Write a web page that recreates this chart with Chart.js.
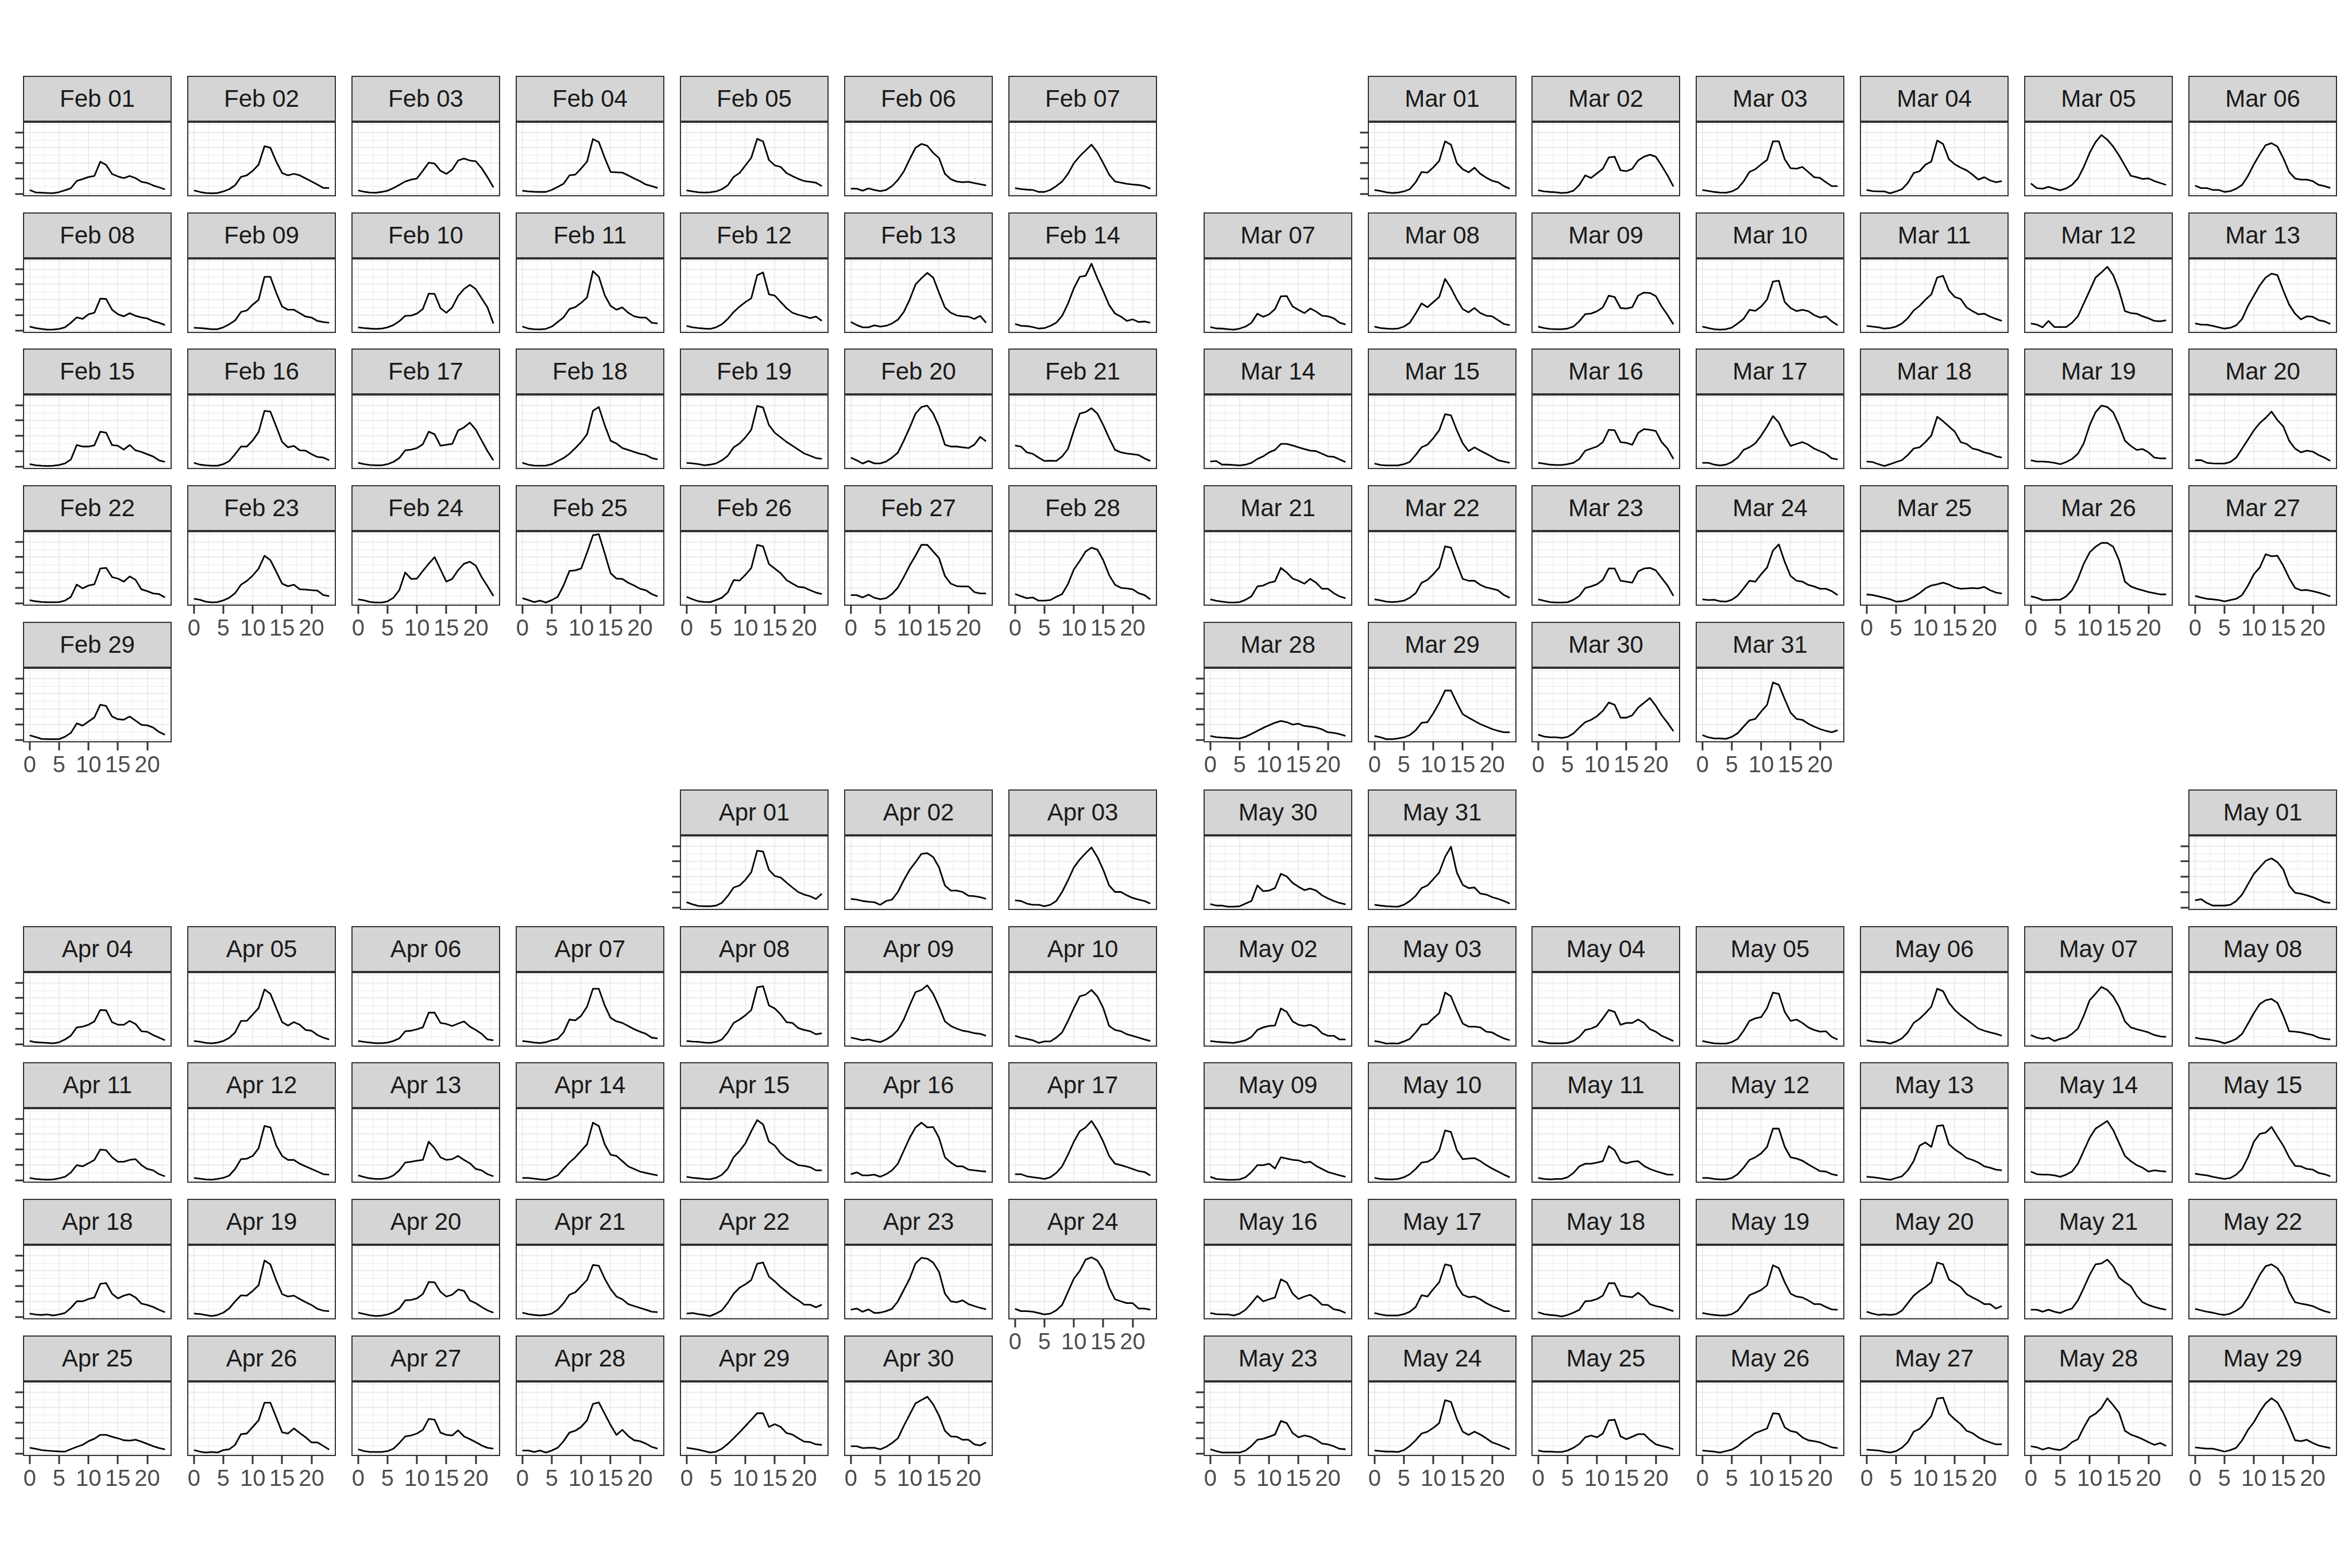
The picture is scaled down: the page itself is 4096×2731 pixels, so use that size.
<!DOCTYPE html>
<html><head><meta charset="utf-8">
<script src="https://cdn.jsdelivr.net/npm/chart.js@4.4.1/dist/chart.umd.min.js"></script>
<style>
html,body{margin:0;padding:0;background:#ffffff;}
body{width:4096px;height:2731px;position:relative;overflow:hidden;font-family:"Liberation Sans",Arial,sans-serif;}
.strip{position:absolute;box-sizing:border-box;border:2px solid #333333;background:#D5D5D5;color:#1A1A1A;font-size:42px;display:flex;align-items:center;justify-content:center;white-space:nowrap;}
canvas{position:absolute;}
</style></head><body>
<script>
// ---------- data ----------
const hours = [0,1,2,3,4,5,6,7,8,9,10,11,12,13,14,15,16,17,18,19,20,21,22,23];
const xMajorTicks = [0,5,10,15,20];
const xMinorTicks = [2.5,7.5,12.5,17.5,22.5];
const yMajorTicks = [0,1,2,3,4];
const yMinorTicks = [0.5,1.5,2.5,3.5,4.5];

const feb01 = [0.24,0.09,0.07,0.05,0.04,0.11,0.23,0.36,0.84,0.96,1.09,1.16,2.09,1.88,1.29,1.13,1.02,1.16,1.02,0.78,0.71,0.54,0.42,0.29];
const feb02 = [0.22,0.12,0.05,0.03,0.05,0.15,0.3,0.55,1.1,1.2,1.5,1.9,3.1,3.0,2.1,1.35,1.2,1.3,1.2,1.0,0.8,0.6,0.38,0.38];
const feb03 = [0.22,0.13,0.08,0.07,0.12,0.2,0.37,0.58,0.8,0.92,1.0,1.5,2.03,1.97,1.5,1.3,1.58,2.17,2.3,2.17,2.12,1.67,1.08,0.42];
const feb04 = [0.2,0.15,0.13,0.12,0.12,0.25,0.45,0.65,1.2,1.25,1.65,2.1,3.57,3.37,2.35,1.42,1.4,1.38,1.2,1.0,0.82,0.6,0.5,0.38];
const feb05 = [0.22,0.15,0.1,0.08,0.1,0.15,0.3,0.55,1.1,1.35,1.85,2.35,3.58,3.42,2.2,1.85,1.75,1.35,1.15,0.97,0.83,0.78,0.72,0.5];
const feb06 = [0.33,0.33,0.2,0.35,0.25,0.17,0.25,0.5,0.9,1.45,2.25,3.0,3.25,3.13,2.67,2.33,1.3,0.95,0.8,0.75,0.78,0.7,0.62,0.55];
const feb07 = [0.37,0.3,0.27,0.25,0.12,0.12,0.25,0.5,0.8,1.3,2.0,2.45,2.83,3.2,2.7,2.0,1.25,0.8,0.72,0.65,0.6,0.57,0.5,0.33];
const feb08 = [0.25,0.15,0.1,0.05,0.06,0.1,0.2,0.5,0.85,0.75,1.05,1.15,2.07,2.05,1.35,1.05,0.92,1.12,0.95,0.85,0.78,0.6,0.5,0.35];
const feb09 = [0.17,0.15,0.12,0.08,0.08,0.2,0.4,0.65,1.2,1.3,1.68,2.0,3.5,3.5,2.45,1.55,1.35,1.35,1.12,0.9,0.84,0.62,0.55,0.5];
const feb10 = [0.2,0.15,0.12,0.1,0.12,0.2,0.35,0.6,0.95,0.97,1.1,1.4,2.4,2.38,1.45,1.15,1.5,2.25,2.7,2.97,2.7,2.1,1.5,0.45];
const feb11 = [0.25,0.12,0.08,0.07,0.1,0.25,0.55,0.85,1.4,1.52,1.8,2.15,3.87,3.5,2.3,1.6,1.35,1.5,1.15,0.92,0.84,0.84,0.5,0.45];
const feb12 = [0.29,0.2,0.15,0.12,0.1,0.2,0.4,0.75,1.2,1.55,1.85,2.1,3.6,3.78,2.35,2.27,1.85,1.45,1.15,1.02,0.92,0.8,0.9,0.62];
const feb13 = [0.55,0.35,0.2,0.2,0.33,0.25,0.3,0.45,0.7,1.2,2.0,3.0,3.4,3.75,3.45,2.45,1.5,1.15,0.98,0.92,0.9,0.75,0.95,0.5];
const feb14 = [0.42,0.3,0.28,0.22,0.12,0.15,0.3,0.5,0.95,1.75,2.75,3.5,3.56,4.35,3.4,2.55,1.65,1.1,0.9,0.62,0.72,0.55,0.58,0.5];
const feb15 = [0.15,0.08,0.05,0.03,0.05,0.1,0.2,0.45,1.4,1.3,1.3,1.38,2.27,2.2,1.4,1.35,1.1,1.4,1.05,0.95,0.8,0.65,0.4,0.3];
const feb16 = [0.24,0.12,0.08,0.05,0.05,0.15,0.35,0.8,1.3,1.3,1.7,2.25,3.63,3.58,2.6,1.6,1.25,1.34,1.05,1.03,0.8,0.62,0.58,0.41];
const feb17 = [0.24,0.15,0.1,0.08,0.08,0.15,0.3,0.55,1.05,1.1,1.2,1.45,2.27,2.1,1.35,1.42,1.47,2.35,2.55,2.86,2.4,1.7,1.0,0.4];
const feb18 = [0.24,0.12,0.06,0.05,0.06,0.15,0.35,0.55,0.83,1.2,1.6,2.1,3.63,3.88,2.7,1.68,1.5,1.2,1.08,0.95,0.83,0.75,0.55,0.46];
const feb19 = [0.24,0.2,0.15,0.08,0.12,0.2,0.4,0.7,1.25,1.5,1.9,2.4,3.95,3.85,2.7,2.2,1.9,1.6,1.35,1.1,0.85,0.7,0.55,0.5];
const feb20 = [0.58,0.4,0.19,0.36,0.2,0.2,0.32,0.58,0.9,1.68,2.53,3.45,3.88,3.97,3.46,2.6,1.42,1.3,1.3,1.25,1.2,1.42,1.93,1.64];
const feb21 = [1.37,1.3,0.92,0.83,0.58,0.36,0.38,0.36,0.65,1.15,2.35,3.45,3.55,3.8,3.45,2.7,1.85,1.08,0.92,0.85,0.8,0.75,0.53,0.36];
const feb22 = [0.19,0.12,0.08,0.06,0.06,0.07,0.16,0.41,1.21,0.96,1.15,1.23,2.26,2.3,1.7,1.6,1.4,1.74,1.52,0.9,0.78,0.63,0.59,0.37];
const feb23 = [0.28,0.22,0.1,0.05,0.07,0.18,0.35,0.65,1.2,1.45,1.8,2.25,3.09,2.8,2.05,1.27,1.1,1.2,0.9,0.88,0.85,0.82,0.53,0.45];
const feb24 = [0.25,0.18,0.08,0.04,0.04,0.12,0.35,0.85,2.0,1.58,1.6,2.1,2.57,3.0,2.2,1.4,1.58,2.15,2.57,2.7,2.45,1.7,1.1,0.47];
const feb25 = [0.32,0.2,0.07,0.16,0.04,0.2,0.41,1.15,2.1,2.14,2.26,3.3,4.42,4.5,3.25,1.95,1.6,1.58,1.33,1.15,0.94,0.84,0.59,0.44];
const feb26 = [0.41,0.25,0.12,0.08,0.07,0.2,0.35,0.7,1.5,1.47,1.85,2.3,3.8,3.7,2.55,2.25,1.95,1.5,1.27,1.06,1.02,0.84,0.69,0.59];
const feb27 = [0.53,0.52,0.37,0.55,0.35,0.26,0.32,0.59,1.02,1.7,2.45,3.1,3.8,3.8,3.37,2.94,1.77,1.27,1.11,1.09,1.09,0.72,0.63,0.63];
const feb28 = [0.6,0.45,0.32,0.37,0.16,0.16,0.2,0.41,0.59,1.25,2.2,2.75,3.37,3.62,3.49,2.8,1.83,1.2,1.0,0.96,0.9,0.65,0.53,0.25];
const feb29 = [0.29,0.18,0.06,0.04,0.04,0.04,0.2,0.45,1.07,0.92,1.19,1.46,2.29,2.2,1.52,1.34,1.31,1.52,1.25,0.98,0.94,0.8,0.51,0.33];

const mar01 = [0.25,0.18,0.1,0.05,0.08,0.15,0.3,0.75,1.42,1.38,1.72,2.15,3.42,3.2,2.0,1.6,1.4,1.7,1.3,1.05,0.85,0.75,0.5,0.33];
const mar02 = [0.23,0.15,0.12,0.1,0.05,0.08,0.2,0.58,1.2,1.03,1.33,1.63,2.37,2.42,1.53,1.47,1.63,2.17,2.42,2.55,2.42,1.83,1.2,0.47];
const mar03 = [0.25,0.18,0.12,0.08,0.07,0.15,0.35,0.8,1.42,1.6,1.92,2.2,3.42,3.42,2.25,1.67,1.63,1.75,1.42,1.08,1.03,0.75,0.5,0.5];
const mar04 = [0.25,0.17,0.15,0.15,0.03,0.15,0.3,0.7,1.35,1.47,1.9,2.1,3.47,3.25,2.25,1.92,1.7,1.53,1.25,0.92,1.08,0.87,0.75,0.83];
const mar05 = [0.67,0.37,0.33,0.45,0.33,0.23,0.35,0.58,1.0,1.75,2.67,3.37,3.83,3.53,3.08,2.5,1.83,1.17,1.08,0.97,1.0,0.83,0.7,0.58];
const mar06 = [0.53,0.37,0.37,0.25,0.25,0.12,0.17,0.33,0.58,1.17,1.92,2.58,3.17,3.3,3.08,2.33,1.42,1.0,0.92,0.92,0.83,0.58,0.5,0.38];
const mar07 = [0.22,0.13,0.12,0.08,0.05,0.12,0.25,0.5,1.09,0.89,1.05,1.39,2.22,2.24,1.56,1.34,1.13,1.43,1.23,0.96,0.92,0.79,0.5,0.39];
const mar08 = [0.25,0.15,0.12,0.1,0.12,0.25,0.5,1.1,1.76,1.51,1.85,2.18,3.36,2.77,2.02,1.39,1.18,1.46,1.13,0.96,0.92,0.67,0.42,0.34];
const mar09 = [0.25,0.15,0.1,0.08,0.08,0.12,0.25,0.6,1.06,1.1,1.25,1.5,2.27,2.18,1.46,1.43,1.51,2.27,2.47,2.44,2.24,1.56,1.01,0.39];
const mar10 = [0.25,0.15,0.08,0.05,0.08,0.18,0.45,0.75,1.34,1.28,1.56,2.02,3.19,3.24,1.85,1.46,1.26,1.34,1.26,1.0,0.84,0.92,0.59,0.34];
const mar11 = [0.29,0.25,0.2,0.12,0.15,0.25,0.45,0.8,1.3,1.6,2.0,2.35,3.45,3.56,2.6,2.18,2.05,1.5,1.26,1.05,1.09,0.9,0.75,0.62];
const mar12 = [0.45,0.38,0.2,0.62,0.22,0.22,0.22,0.5,0.92,1.76,2.6,3.45,3.78,4.15,3.61,2.6,1.26,1.13,1.09,0.92,0.79,0.62,0.59,0.66];
const mar13 = [0.45,0.38,0.37,0.29,0.2,0.12,0.17,0.33,0.75,1.6,2.27,2.94,3.45,3.7,3.61,2.6,1.68,1.09,0.72,0.92,0.89,0.67,0.59,0.42];
const mar14 = [0.32,0.36,0.12,0.12,0.1,0.07,0.12,0.24,0.49,0.66,0.92,1.08,1.47,1.47,1.37,1.25,1.14,1.03,1.0,0.83,0.66,0.63,0.46,0.29];
const mar15 = [0.19,0.1,0.07,0.07,0.07,0.15,0.3,0.75,1.25,1.42,1.85,2.36,3.41,3.34,2.36,1.51,1.0,1.25,1.03,0.83,0.63,0.41,0.32,0.24];
const mar16 = [0.24,0.18,0.12,0.1,0.1,0.15,0.24,0.49,1.03,1.17,1.3,1.59,2.39,2.36,1.59,1.54,1.42,2.19,2.44,2.39,2.32,1.59,1.17,0.49];
const mar17 = [0.24,0.24,0.12,0.07,0.12,0.29,0.58,1.08,1.25,1.51,2.02,2.61,3.29,2.86,2.02,1.34,1.47,1.59,1.42,1.17,1.0,0.83,0.53,0.46];
const mar18 = [0.32,0.29,0.15,0.03,0.15,0.29,0.41,0.75,1.17,1.25,1.59,2.02,3.24,2.95,2.61,2.27,1.59,1.47,1.17,1.08,0.92,0.83,0.66,0.58];
const mar19 = [0.41,0.32,0.32,0.29,0.24,0.15,0.29,0.49,0.83,1.51,2.69,3.54,3.97,3.88,3.54,2.69,1.68,1.34,1.08,1.14,0.92,0.58,0.53,0.53];
const mar20 = [0.41,0.41,0.24,0.2,0.19,0.19,0.29,0.58,1.17,1.76,2.36,2.83,3.17,3.58,3.03,2.61,1.68,1.17,0.92,1.03,0.97,0.75,0.58,0.36];
const mar21 = [0.25,0.15,0.1,0.05,0.04,0.07,0.22,0.45,1.09,1.15,1.33,1.42,2.3,2.0,1.6,1.46,1.27,1.58,1.33,0.94,0.94,0.65,0.44,0.32];
const mar22 = [0.25,0.18,0.1,0.07,0.1,0.16,0.35,0.65,1.33,1.52,1.89,2.32,3.7,3.62,2.57,1.58,1.46,1.46,1.19,1.02,0.94,0.84,0.53,0.35];
const mar23 = [0.25,0.15,0.07,0.04,0.04,0.06,0.22,0.47,0.99,1.09,1.23,1.52,2.26,2.26,1.46,1.4,1.33,2.07,2.26,2.3,2.14,1.64,1.15,0.47];
const mar24 = [0.25,0.2,0.22,0.12,0.1,0.22,0.49,0.96,1.46,1.4,1.89,2.32,3.43,3.83,2.69,1.77,1.46,1.4,1.19,1.09,0.94,0.94,0.78,0.53];
const mar25 = [0.57,0.53,0.44,0.35,0.25,0.1,0.12,0.22,0.41,0.65,0.96,1.15,1.23,1.33,1.21,1.02,0.94,0.96,0.99,0.96,1.06,0.84,0.69,0.63];
const mar26 = [0.44,0.35,0.2,0.2,0.22,0.22,0.44,0.84,1.58,2.57,3.31,3.68,3.93,3.93,3.68,2.81,1.4,1.09,0.94,0.84,0.72,0.65,0.57,0.57];
const mar27 = [0.47,0.37,0.28,0.25,0.2,0.12,0.2,0.28,0.53,1.15,1.89,2.32,3.19,3.06,3.09,2.44,1.64,0.99,0.84,0.86,0.78,0.69,0.57,0.44];
const mar28 = [0.25,0.17,0.14,0.12,0.1,0.09,0.2,0.38,0.58,0.78,0.95,1.11,1.23,1.15,0.99,1.05,0.9,0.86,0.8,0.68,0.49,0.45,0.37,0.25];
const mar29 = [0.25,0.16,0.04,0.04,0.09,0.16,0.31,0.62,1.11,1.15,1.73,2.41,3.21,3.21,2.41,1.67,1.44,1.23,1.02,0.86,0.7,0.58,0.49,0.49];
const mar30 = [0.33,0.21,0.16,0.16,0.12,0.19,0.41,0.8,1.15,1.3,1.54,1.89,2.43,2.28,1.44,1.44,1.6,2.1,2.41,2.72,2.22,1.6,1.11,0.56];
const mar31 = [0.31,0.16,0.09,0.09,0.06,0.19,0.43,0.86,1.27,1.36,1.85,2.28,3.74,3.58,2.65,1.77,1.36,1.3,1.05,0.86,0.7,0.58,0.49,0.62];

const apr01 = [0.34,0.2,0.1,0.08,0.08,0.12,0.3,0.75,1.3,1.43,1.8,2.3,3.7,3.65,2.45,2.05,1.95,1.62,1.3,1.0,0.84,0.73,0.55,0.9];
const apr02 = [0.56,0.51,0.42,0.37,0.34,0.17,0.42,0.51,1.01,1.77,2.45,2.95,3.49,3.54,3.29,2.61,1.43,1.1,1.1,1.01,0.76,0.73,0.67,0.56];
const apr03 = [0.46,0.42,0.25,0.17,0.17,0.08,0.17,0.42,1.01,1.77,2.61,3.12,3.54,3.91,3.29,2.45,1.43,1.01,1.01,0.79,0.62,0.51,0.42,0.25];
const apr04 = [0.2,0.12,0.1,0.08,0.05,0.12,0.3,0.55,1.09,1.14,1.26,1.48,2.22,2.2,1.43,1.26,1.26,1.51,1.31,0.84,0.8,0.59,0.42,0.25];
const apr05 = [0.2,0.15,0.08,0.05,0.1,0.2,0.4,0.76,1.51,1.51,1.93,2.35,3.56,3.28,2.35,1.43,1.21,1.43,1.26,0.92,0.87,0.59,0.42,0.3];
const apr06 = [0.2,0.14,0.1,0.06,0.06,0.1,0.2,0.37,0.84,0.87,0.97,1.09,2.05,2.05,1.38,1.31,1.18,1.34,1.48,1.14,0.92,0.67,0.3,0.25];
const apr07 = [0.2,0.15,0.1,0.07,0.12,0.25,0.34,0.76,1.6,1.55,1.85,2.44,3.61,3.61,2.52,1.71,1.48,1.38,1.18,0.97,0.81,0.67,0.42,0.37];
const apr08 = [0.2,0.16,0.14,0.1,0.08,0.14,0.3,0.76,1.38,1.6,1.88,2.22,3.7,3.78,2.52,2.32,1.93,1.43,1.38,1.04,0.92,0.84,0.64,0.71];
const apr09 = [0.42,0.34,0.25,0.3,0.2,0.13,0.3,0.54,0.92,1.6,2.52,3.39,3.53,3.83,3.28,2.44,1.48,1.18,1.01,0.87,0.81,0.71,0.67,0.54];
const apr10 = [0.54,0.42,0.34,0.25,0.08,0.17,0.17,0.42,0.76,1.51,2.35,3.11,3.23,3.53,3.11,2.35,1.18,0.92,0.84,0.64,0.54,0.42,0.3,0.2];
const apr11 = [0.14,0.08,0.05,0.03,0.05,0.12,0.22,0.5,0.98,0.9,1.1,1.32,2.0,1.95,1.49,1.2,1.2,1.32,1.37,0.98,0.73,0.64,0.39,0.25];
const apr12 = [0.14,0.1,0.05,0.03,0.08,0.15,0.3,0.73,1.37,1.4,1.58,2.08,3.53,3.44,2.25,1.58,1.32,1.32,1.07,0.9,0.73,0.56,0.39,0.36];
const apr13 = [0.31,0.2,0.12,0.08,0.08,0.14,0.31,0.64,1.15,1.2,1.27,1.32,2.51,2.08,1.49,1.32,1.37,1.58,1.32,1.1,0.73,0.64,0.39,0.25];
const apr14 = [0.14,0.14,0.1,0.05,0.02,0.14,0.31,0.73,1.15,1.49,1.92,2.34,3.75,3.53,2.34,1.66,1.58,1.24,0.9,0.73,0.56,0.47,0.39,0.31];
const apr15 = [0.22,0.15,0.12,0.08,0.06,0.15,0.35,0.75,1.5,1.9,2.4,3.2,3.92,3.64,2.51,2.25,1.75,1.41,1.2,0.98,0.93,0.85,0.64,0.64];
const apr16 = [0.39,0.51,0.31,0.31,0.36,0.22,0.39,0.64,1.07,1.92,2.76,3.44,3.75,3.44,3.47,2.76,1.49,1.15,0.9,0.9,0.69,0.64,0.59,0.56];
const apr17 = [0.39,0.39,0.25,0.19,0.14,0.08,0.19,0.47,0.9,1.66,2.51,3.19,3.44,3.86,3.27,2.51,1.58,1.07,0.98,0.86,0.73,0.59,0.53,0.31];
const apr18 = [0.21,0.14,0.12,0.15,0.09,0.15,0.25,0.58,1.01,1.01,1.16,1.26,2.15,2.2,1.5,1.2,1.38,1.48,1.26,0.86,0.77,0.64,0.46,0.3];
const apr19 = [0.21,0.18,0.12,0.05,0.12,0.27,0.55,1.0,1.4,1.38,1.69,2.06,3.67,3.42,2.37,1.48,1.32,1.38,1.16,0.95,0.77,0.52,0.4,0.37];
const apr20 = [0.27,0.18,0.1,0.05,0.08,0.15,0.3,0.54,1.07,1.1,1.2,1.48,2.27,2.25,1.63,1.32,1.44,1.78,1.69,1.07,0.89,0.64,0.42,0.27];
const apr21 = [0.27,0.17,0.12,0.09,0.12,0.21,0.46,0.89,1.44,1.6,2.0,2.4,3.38,3.33,2.49,1.81,1.32,1.14,0.83,0.7,0.58,0.46,0.33,0.3];
const apr22 = [0.21,0.25,0.17,0.12,0.05,0.21,0.42,0.91,1.51,1.9,2.12,2.4,3.46,3.54,2.62,2.31,1.94,1.63,1.32,1.07,0.79,0.79,0.62,0.79];
const apr23 = [0.46,0.54,0.33,0.48,0.25,0.27,0.37,0.52,1.01,1.75,2.49,3.48,3.85,3.79,3.54,2.93,1.51,1.01,0.95,1.07,0.83,0.7,0.58,0.49];
const apr24 = [0.52,0.37,0.37,0.33,0.25,0.15,0.21,0.42,0.77,1.63,2.49,2.99,3.73,3.88,3.67,3.05,1.9,1.14,1.01,0.89,0.89,0.54,0.54,0.46];
const apr25 = [0.37,0.3,0.22,0.18,0.15,0.13,0.12,0.28,0.43,0.56,0.8,0.96,1.21,1.21,1.09,0.99,0.86,0.84,0.89,0.77,0.62,0.47,0.35,0.27];
const apr26 = [0.22,0.12,0.06,0.1,0.06,0.22,0.27,0.56,1.26,1.3,1.73,2.16,3.31,3.31,2.35,1.38,1.3,1.63,1.33,1.05,0.72,0.72,0.49,0.25];
const apr27 = [0.27,0.15,0.1,0.1,0.1,0.15,0.31,0.68,1.11,1.17,1.3,1.54,2.25,2.2,1.36,1.21,1.17,1.51,1.11,0.93,0.74,0.52,0.37,0.31];
const apr28 = [0.19,0.19,0.1,0.19,0.06,0.19,0.37,0.8,1.36,1.48,1.73,2.16,3.23,3.33,2.59,1.85,1.21,1.54,1.14,0.86,0.8,0.64,0.43,0.31];
const apr29 = [0.37,0.31,0.25,0.15,0.06,0.12,0.31,0.62,0.99,1.38,1.79,2.2,2.62,2.62,1.73,1.91,1.73,1.33,1.23,0.99,0.77,0.74,0.59,0.56];
const apr30 = [0.47,0.47,0.35,0.37,0.37,0.27,0.43,0.68,0.99,1.79,2.53,3.27,3.48,3.7,3.21,2.47,1.48,1.11,1.09,0.89,0.89,0.59,0.52,0.72];

const may01 = [0.46,0.54,0.29,0.12,0.12,0.12,0.17,0.42,0.84,1.52,2.19,2.61,3.04,3.2,2.95,2.48,1.43,0.96,0.89,0.79,0.67,0.51,0.34,0.29];
const may02 = [0.2,0.15,0.12,0.1,0.08,0.15,0.25,0.47,0.92,1.09,1.18,1.21,2.32,2.1,1.48,1.26,1.18,1.26,1.09,0.71,0.54,0.54,0.3,0.3];
const may03 = [0.2,0.13,0.03,0.05,0.03,0.17,0.34,0.76,1.26,1.31,1.68,2.02,3.36,3.11,2.18,1.34,1.14,1.14,1.09,0.81,0.76,0.54,0.37,0.25];
const may04 = [0.2,0.12,0.05,0.05,0.05,0.08,0.2,0.47,0.92,1.01,1.18,1.68,2.22,2.1,1.26,1.38,1.38,1.6,1.38,0.97,0.81,0.54,0.37,0.2];
const may05 = [0.2,0.12,0.05,0.03,0.03,0.13,0.34,0.87,1.51,1.68,1.76,2.35,3.36,3.28,2.1,1.51,1.6,1.38,1.09,0.92,0.81,0.84,0.47,0.3];
const may06 = [0.25,0.17,0.13,0.12,0.03,0.17,0.37,0.76,1.38,1.65,2.02,2.44,3.61,3.45,2.69,2.22,1.88,1.6,1.31,1.01,0.87,0.76,0.67,0.54];
const may07 = [0.59,0.42,0.34,0.42,0.2,0.34,0.42,0.67,1.01,1.85,2.86,3.28,3.73,3.53,3.11,2.44,1.48,1.09,0.97,0.87,0.76,0.59,0.5,0.47];
const may08 = [0.42,0.34,0.3,0.25,0.17,0.05,0.17,0.34,0.67,1.34,2.02,2.61,2.86,2.94,2.69,1.85,0.84,0.81,0.76,0.67,0.59,0.42,0.34,0.3];
const may09 = [0.22,0.08,0.05,0.02,0.02,0.05,0.19,0.53,0.98,0.98,1.07,0.76,1.49,1.41,1.32,1.29,1.15,1.2,0.93,0.73,0.53,0.42,0.31,0.22];
const may10 = [0.14,0.08,0.05,0.05,0.08,0.19,0.39,0.73,1.15,1.2,1.41,1.92,3.24,3.14,1.95,1.37,1.41,1.44,1.24,0.98,0.76,0.56,0.36,0.19];
const may11 = [0.14,0.08,0.05,0.08,0.08,0.19,0.47,0.9,1.07,1.07,1.15,1.24,2.22,1.95,1.24,1.1,1.2,1.24,0.93,0.73,0.59,0.47,0.36,0.36];
const may12 = [0.14,0.14,0.08,0.05,0.05,0.14,0.39,0.81,1.32,1.49,1.75,2.17,3.36,3.36,2.17,1.49,1.41,1.27,1.03,0.81,0.59,0.56,0.39,0.31];
const may13 = [0.22,0.19,0.14,0.08,0.02,0.14,0.25,0.64,1.24,2.25,2.46,2.17,3.53,3.58,2.34,2.0,1.75,1.44,1.32,1.15,0.9,0.81,0.69,0.64];
const may14 = [0.56,0.39,0.36,0.36,0.31,0.22,0.36,0.56,1.07,1.92,2.76,3.36,3.61,3.86,3.27,2.42,1.58,1.24,0.98,0.81,0.56,0.64,0.59,0.56];
const may15 = [0.42,0.36,0.31,0.22,0.14,0.08,0.14,0.36,0.73,1.49,2.51,3.02,3.1,3.47,2.85,2.25,1.49,0.93,0.9,0.73,0.69,0.47,0.39,0.25];
const may16 = [0.25,0.17,0.15,0.15,0.09,0.21,0.46,0.89,1.36,1.01,1.14,1.26,2.44,2.25,1.51,1.16,1.32,1.44,1.16,0.79,0.77,0.49,0.42,0.25];
const may17 = [0.25,0.15,0.09,0.09,0.09,0.17,0.33,0.64,1.41,1.32,1.81,2.25,3.42,3.33,2.02,1.44,1.28,1.32,1.14,0.89,0.7,0.54,0.37,0.37];
const may18 = [0.3,0.17,0.12,0.09,0.02,0.12,0.27,0.46,1.01,1.04,1.16,1.38,2.19,2.19,1.38,1.32,1.28,1.57,1.28,0.83,0.7,0.62,0.49,0.37];
const may19 = [0.25,0.17,0.12,0.09,0.09,0.17,0.4,0.89,1.41,1.57,1.75,2.06,3.36,3.17,2.25,1.51,1.32,1.26,1.07,0.83,0.83,0.64,0.48,0.46];
const may20 = [0.33,0.21,0.12,0.15,0.12,0.17,0.4,0.89,1.38,1.69,1.94,2.25,3.54,3.42,2.43,2.19,1.94,1.48,1.26,1.07,0.83,0.83,0.54,0.7];
const may21 = [0.46,0.46,0.33,0.46,0.33,0.25,0.42,0.54,1.07,1.88,2.74,3.42,3.48,3.73,3.3,2.56,2.25,2.0,1.38,0.95,0.77,0.64,0.54,0.46];
const may22 = [0.52,0.42,0.33,0.27,0.17,0.12,0.21,0.4,0.67,1.26,2.0,2.74,3.3,3.42,3.17,2.62,1.63,0.95,0.86,0.79,0.7,0.52,0.37,0.27];
const may23 = [0.27,0.15,0.06,0.06,0.06,0.06,0.19,0.49,0.89,0.96,1.09,1.23,2.12,1.98,1.33,1.05,1.17,1.09,0.9,0.64,0.59,0.47,0.3,0.27];
const may24 = [0.19,0.15,0.12,0.12,0.1,0.22,0.49,0.86,1.3,1.42,1.67,1.98,3.48,3.36,2.25,1.42,1.21,1.42,1.23,0.99,0.72,0.59,0.43,0.27];
const may25 = [0.19,0.12,0.12,0.1,0.1,0.19,0.37,0.62,1.05,1.17,1.05,1.3,2.16,2.2,1.11,0.93,1.09,1.26,1.26,0.89,0.59,0.49,0.4,0.27];
const may26 = [0.19,0.15,0.12,0.06,0.15,0.25,0.47,0.8,1.05,1.33,1.48,1.63,2.62,2.59,1.7,1.46,1.38,1.05,0.86,0.8,0.72,0.56,0.4,0.35];
const may27 = [0.25,0.22,0.19,0.12,0.06,0.15,0.37,0.74,1.42,1.6,1.98,2.44,3.58,3.64,2.59,2.22,1.91,1.48,1.33,1.05,0.86,0.72,0.59,0.59];
const may28 = [0.47,0.4,0.25,0.37,0.27,0.22,0.4,0.74,0.93,1.7,2.37,2.59,2.96,3.6,3.15,2.65,1.48,1.23,1.09,0.93,0.74,0.56,0.68,0.49];
const may29 = [0.4,0.35,0.31,0.31,0.22,0.12,0.22,0.37,0.86,1.54,2.04,2.72,3.27,3.6,3.33,2.65,1.79,0.86,0.8,0.89,0.68,0.52,0.43,0.35];
const may30 = [0.22,0.12,0.12,0.05,0.05,0.08,0.25,0.42,1.43,1.06,1.1,1.26,2.19,2.02,1.6,1.35,1.13,1.23,1.1,0.79,0.59,0.42,0.29,0.2];
const may31 = [0.17,0.12,0.08,0.06,0.05,0.17,0.42,0.76,1.26,1.43,1.85,2.28,3.3,3.96,2.28,1.47,1.26,1.3,0.9,0.84,0.67,0.56,0.42,0.25];

const febLabels = ["Feb 01","Feb 02","Feb 03","Feb 04","Feb 05","Feb 06","Feb 07","Feb 08","Feb 09","Feb 10","Feb 11","Feb 12","Feb 13","Feb 14","Feb 15","Feb 16","Feb 17","Feb 18","Feb 19","Feb 20","Feb 21","Feb 22","Feb 23","Feb 24","Feb 25","Feb 26","Feb 27","Feb 28","Feb 29"];
const marLabels = ["Mar 01","Mar 02","Mar 03","Mar 04","Mar 05","Mar 06","Mar 07","Mar 08","Mar 09","Mar 10","Mar 11","Mar 12","Mar 13","Mar 14","Mar 15","Mar 16","Mar 17","Mar 18","Mar 19","Mar 20","Mar 21","Mar 22","Mar 23","Mar 24","Mar 25","Mar 26","Mar 27","Mar 28","Mar 29","Mar 30","Mar 31"];
const aprLabels = ["Apr 01","Apr 02","Apr 03","Apr 04","Apr 05","Apr 06","Apr 07","Apr 08","Apr 09","Apr 10","Apr 11","Apr 12","Apr 13","Apr 14","Apr 15","Apr 16","Apr 17","Apr 18","Apr 19","Apr 20","Apr 21","Apr 22","Apr 23","Apr 24","Apr 25","Apr 26","Apr 27","Apr 28","Apr 29","Apr 30"];
const mayLabels = ["May 01","May 02","May 03","May 04","May 05","May 06","May 07","May 08","May 09","May 10","May 11","May 12","May 13","May 14","May 15","May 16","May 17","May 18","May 19","May 20","May 21","May 22","May 23","May 24","May 25","May 26","May 27","May 28","May 29","May 30","May 31"];

const febSeries = [feb01,feb02,feb03,feb04,feb05,feb06,feb07,feb08,feb09,feb10,feb11,feb12,feb13,feb14,feb15,feb16,feb17,feb18,feb19,feb20,feb21,feb22,feb23,feb24,feb25,feb26,feb27,feb28,feb29];
const marSeries = [mar01,mar02,mar03,mar04,mar05,mar06,mar07,mar08,mar09,mar10,mar11,mar12,mar13,mar14,mar15,mar16,mar17,mar18,mar19,mar20,mar21,mar22,mar23,mar24,mar25,mar26,mar27,mar28,mar29,mar30,mar31];
const aprSeries = [apr01,apr02,apr03,apr04,apr05,apr06,apr07,apr08,apr09,apr10,apr11,apr12,apr13,apr14,apr15,apr16,apr17,apr18,apr19,apr20,apr21,apr22,apr23,apr24,apr25,apr26,apr27,apr28,apr29,apr30];
const maySeries = [may01,may02,may03,may04,may05,may06,may07,may08,may09,may10,may11,may12,may13,may14,may15,may16,may17,may18,may19,may20,may21,may22,may23,may24,may25,may26,may27,may28,may29,may30,may31];

// panels that carry y-axis tick marks in the reference
const yTickPanels = ["Feb 01","Feb 08","Feb 15","Feb 22","Feb 29","Mar 01","Mar 28","Apr 01","Apr 04","Apr 11","Apr 18","Apr 25","May 01","May 23"];

// ---------- layout ----------
const X_MIN = -1.15, X_MAX = 24.15, Y_MIN = -0.17, Y_MAX = 4.70;
const PANEL_W = 259, STRIP_H = 80, PLOT_H = 130;
const Y_AXIS_W = 16, X_AXIS_H = 70;
const COL_PITCH = 285.87, ROW_PITCH = 237.9;
const FONT = '"Liberation Sans", Arial, sans-serif';
Chart.defaults.font.family = FONT;

const blocks = [
  {labels: febLabels, series: febSeries, x0: 40.4,   y0: 131.6,  start: 0},
  {labels: marLabels, series: marSeries, x0: 2095.7, y0: 131.6,  start: 1},
  {labels: aprLabels, series: aprSeries, x0: 40.4,   y0: 1374.6, start: 4},
  {labels: mayLabels, series: maySeries, x0: 2095.7, y0: 1374.6, start: 6}
];

const near = (arr, v) => arr.some(t => Math.abs(t - v) < 1e-9);
const xTickValues = xMajorTicks.concat(xMinorTicks).sort((a,b)=>a-b);
const yTickValues = yMajorTicks.concat(yMinorTicks).sort((a,b)=>a-b);

const borderPlugin = {
  id: 'panelBorder',
  afterDraw(chart) {
    const a = chart.chartArea, c = chart.ctx;
    c.save();
    c.strokeStyle = '#333333';
    c.lineWidth = 2;
    c.strokeRect(a.left + 1, a.top + 1, a.right - a.left - 2, a.bottom - a.top - 2);
    c.restore();
  }
};

function drawPanel(label, values, left, top, showY, showX) {
  const strip = document.createElement('div');
  strip.className = 'strip';
  strip.style.left = left + 'px';
  strip.style.top = top + 'px';
  strip.style.width = PANEL_W + 'px';
  strip.style.height = STRIP_H + 'px';
  strip.textContent = label;
  document.body.appendChild(strip);

  const cv = document.createElement('canvas');
  const w = Y_AXIS_W + PANEL_W, h = PLOT_H + (showX ? X_AXIS_H : 0);
  cv.width = w; cv.height = h;
  cv.style.width = w + 'px'; cv.style.height = h + 'px';
  cv.style.left = (left - Y_AXIS_W) + 'px';
  cv.style.top = (top + STRIP_H) + 'px';
  document.body.appendChild(cv);

  new Chart(cv, {
    type: 'line',
    data: {
      datasets: [{
        data: values.map((v, i) => ({x: hours[i], y: v})),
        borderColor: '#000000',
        borderWidth: 2.8,
        borderJoinStyle: 'round',
        pointRadius: 0,
        pointHoverRadius: 0,
        tension: 0,
        fill: false
      }]
    },
    options: {
      responsive: false,
      maintainAspectRatio: false,
      animation: false,
      devicePixelRatio: 1,
      events: [],
      layout: {padding: 0, autoPadding: false},
      plugins: {legend: {display: false}, tooltip: {enabled: false}, title: {display: false}},
      scales: {
        x: {
          type: 'linear', position: 'bottom', min: X_MIN, max: X_MAX,
          afterBuildTicks: s => { s.ticks = xTickValues.map(v => ({value: v})); },
          afterFit: s => { s.height = showX ? X_AXIS_H : 0; },
          border: {display: false},
          grid: {
            color: '#EBEBEB',
            lineWidth: c => (c.tick && near(xMajorTicks, c.tick.value)) ? 1.9 : 1.0,
            drawTicks: showX, tickLength: 14, tickWidth: 3,
            tickColor: c => (c.tick && near(xMajorTicks, c.tick.value)) ? '#333333' : 'rgba(0,0,0,0)'
          },
          ticks: {
            display: showX, autoSkip: false, maxRotation: 0, minRotation: 0, padding: 3,
            color: '#4D4D4D', font: {family: FONT, size: 40},
            callback: v => near(xMajorTicks, v) ? String(v) : ''
          }
        },
        y: {
          type: 'linear', position: 'left', min: Y_MIN, max: Y_MAX,
          afterBuildTicks: s => { s.ticks = yTickValues.map(v => ({value: v})); },
          afterFit: s => { s.width = Y_AXIS_W; },
          border: {display: false},
          grid: {
            color: '#EBEBEB',
            lineWidth: c => (c.tick && near(yMajorTicks, c.tick.value)) ? 1.9 : 1.0,
            drawTicks: showY, tickLength: 13.5, tickWidth: 3,
            tickColor: c => (c.tick && near(yMajorTicks, c.tick.value)) ? '#333333' : 'rgba(0,0,0,0)'
          },
          ticks: {display: false}
        }
      }
    },
    plugins: [borderPlugin]
  });
}

blocks.forEach(b => {
  const pos = b.labels.map((_, i) => {
    const idx = (b.start + i) % 35;
    return {row: Math.floor(idx / 7), col: idx % 7};
  });
  const lastRow = [-1,-1,-1,-1,-1,-1,-1];
  pos.forEach(p => { if (p.row > lastRow[p.col]) lastRow[p.col] = p.row; });
  b.labels.forEach((lab, i) => {
    const p = pos[i];
    const left = Math.round(b.x0 + p.col * COL_PITCH);
    const top = Math.round(b.y0 + p.row * ROW_PITCH);
    drawPanel(lab, b.series[i], left, top, yTickPanels.includes(lab), p.row === lastRow[p.col]);
  });
});
</script>
</body></html>
